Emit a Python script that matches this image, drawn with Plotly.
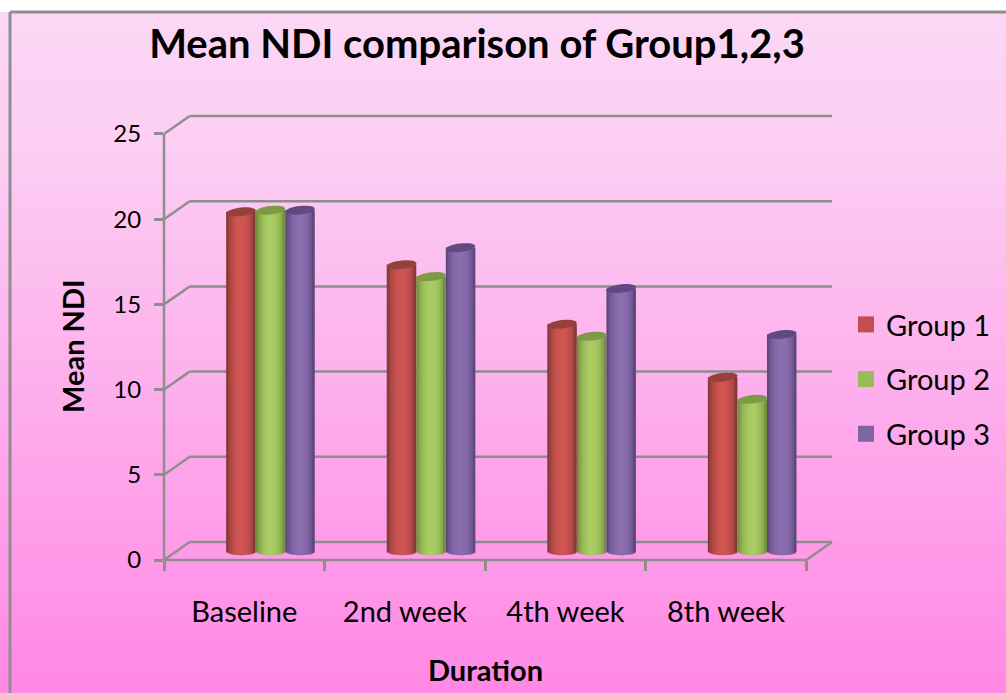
import math
import plotly.graph_objects as go

# values
categories = ['Baseline', '2nd week', '4th week', '8th week']
group_names = ['Group 1', 'Group 2', 'Group 3']
group_1 = [19.9, 16.8, 13.3, 10.2]
group_2 = [20.0, 16.1, 12.6, 8.9]
group_3 = [20.0, 17.8, 15.4, 12.7]
y_ticks = [0, 5, 10, 15, 20, 25]

edge_colors = [(112, 48, 46), (98, 124, 52), (80, 62, 110)]
mid_colors = [(208, 86, 83), (170, 205, 100), (139, 110, 176)]
top_colors = ['#96403c', '#7e9a45', '#5f4a82']
legend_colors = ['#c0504d', '#9bbb59', '#8064a2']

GREY = '#8e8e8e'
FONT = 'Lato, Carlito, Calibri, sans-serif'

# fake 3D: depth of the chart box in axis units
DEPTH_X = 0.16
DEPTH_Y = 1.056
BAR_BASE = 0.53
BAR_W = 0.184
BAR_LEFT = -0.113
STRIPS = 15
OVERLAP = 0.007  # strips overlap by about a pixel so no seams show


def mix(a, b, t):
    return 'rgb(%d,%d,%d)' % tuple(a[i] + (b[i] - a[i]) * t for i in range(3))


fig = go.Figure()

# cylinders: narrow bars side by side, shaded dark - light - dark
for g, values in enumerate([group_1, group_2, group_3]):
    left = BAR_LEFT + g * BAR_W
    for s in range(STRIPS):
        u = (s + 0.5) / STRIPS
        c = 2 * u - 1
        round_off = math.sqrt(1 - c * c)
        base = BAR_BASE - 0.25 * round_off
        strip_w = BAR_W / STRIPS + (OVERLAP if s < STRIPS - 1 else 0)
        fig.add_trace(go.Bar(
            x=list(range(4)),
            y=[v + BAR_BASE - base for v in values],
            base=base,
            width=strip_w,
            offset=left + s * BAR_W / STRIPS,
            marker=dict(color=mix(edge_colors[g], mid_colors[g], round_off ** 1.4), line_width=0),
            name=group_names[g],
            showlegend=False,
            hoverinfo='skip' if s != STRIPS // 2 else None,
        ))

# legend swatches
for g, name in enumerate(group_names):
    fig.add_trace(go.Scatter(
        x=[None], y=[None], mode='markers', name=name, legendgroup=name,
        marker=dict(symbol='square', size=16, color=legend_colors[g]),
    ))

shapes = []

# page gradient
stops = [(0, (253, 216, 246)), (150, (252, 206, 243)), (300, (253, 186, 239)),
         (550, (255, 155, 233)), (693, (255, 136, 229))]
for py in range(12, 693, 5):
    for (p0, c0), (p1, c1) in zip(stops, stops[1:]):
        if p0 <= py <= p1:
            col = mix(c0, c1, (py - p0) / (p1 - p0))
            break
    shapes.append(dict(type='rect', xref='paper', yref='paper', layer='below',
                       x0=-164 / 668, x1=(1006 - 164) / 668,
                       y0=(560 - py - 5) / 444, y1=(560 - py) / 444,
                       fillcolor=col, line_width=0))

# outer frame, top and left only
for x0, y0, x1, y1 in [(10, 12, 1006, 12), (10, 12, 10, 693)]:
    shapes.append(dict(type='line', xref='paper', yref='paper', layer='below',
                       x0=(x0 - 164) / 668, x1=(x1 - 164) / 668,
                       y0=(560 - y0) / 444, y1=(560 - y1) / 444,
                       line=dict(color=GREY, width=3)))


def grey_line(x0, y0, x1, y1):
    # paper coordinates so the box edges are not clipped by the plot area
    shapes.append(dict(type='line', xref='paper', yref='paper', layer='below',
                       x0=(x0 + 0.5) / (4 + DEPTH_X), x1=(x1 + 0.5) / (4 + DEPTH_X),
                       y0=y0 / (25 + DEPTH_Y), y1=y1 / (25 + DEPTH_Y),
                       line=dict(color=GREY, width=2.5)))


# back wall gridlines and side wall diagonals
for v in y_ticks:
    grey_line(-0.5, v, -0.5 + DEPTH_X, v + DEPTH_Y)
    grey_line(-0.5 + DEPTH_X, v + DEPTH_Y, 3.5 + DEPTH_X, v + DEPTH_Y)
grey_line(-0.5, 0, -0.5, 25)
grey_line(-0.5, 0, 3.5, 0)
grey_line(3.5, 0, 3.5 + DEPTH_X, DEPTH_Y)

# tops of the cylinders
for g, values in enumerate([group_1, group_2, group_3]):
    for i, v in enumerate(values):
        cx = i + BAR_LEFT + (g + 0.5) * BAR_W
        top = v + BAR_BASE
        pts = []
        for k in range(28):
            t = 2 * math.pi * k / 28
            pts.append('%.4f,%.4f' % (cx + BAR_W / 2 * math.cos(t),
                                      top + 0.25 * math.sin(t) + 0.09 * math.cos(t)))
        shapes.append(dict(type='path', layer='above', path='M' + 'L'.join(pts) + 'Z',
                           fillcolor=top_colors[g], line_width=0))

fig.update_layout(
    width=1006,
    height=693,
    autosize=False,
    barmode='overlay',
    margin=dict(l=164, r=174, t=116, b=133),
    paper_bgcolor='white',
    plot_bgcolor='rgba(0,0,0,0)',
    font=dict(family=FONT, color='black'),
    shapes=shapes,
    title=dict(text='<b>Mean NDI comparison of Group1,2,3</b>', font=dict(size=40),
               x=477 / 1006, xanchor='center', y=1 - 44 / 693, yanchor='middle'),
    legend=dict(x=846 / 1006, xref='container', y=1 - 299 / 693, yref='container',
                xanchor='left', yanchor='top', bgcolor='rgba(0,0,0,0)',
                font=dict(size=29), tracegroupgap=14, itemwidth=30),
    annotations=[
        dict(text='<b>Duration</b>', font=dict(size=29), showarrow=False,
             xref='paper', yref='paper', xanchor='center', yanchor='middle',
             x=(485 - 164) / 668, y=(560 - 669) / 444),
        dict(text='<b>Mean NDI</b>', font=dict(size=29), showarrow=False, textangle=-90,
             xref='paper', yref='paper', xanchor='center', yanchor='middle',
             x=(72 - 164) / 668, y=(560 - 346) / 444),
    ],
    xaxis=dict(
        range=[-0.5, 3.5 + DEPTH_X], tickvals=list(range(4)), ticktext=categories,
        ticks='', showgrid=False, zeroline=False, showline=False,
        tickfont=dict(size=29), ticklabelstandoff=32,
        minor=dict(tickvals=[-0.5, 0.5, 1.5, 2.5, 3.5], ticks='outside', ticklen=10,
                   tickcolor=GREY, tickwidth=2.5, showgrid=False),
    ),
    yaxis=dict(
        range=[0, 25 + DEPTH_Y], tickvals=y_ticks, ticks='outside', ticklen=9,
        tickcolor=GREY, tickwidth=2.5, showgrid=False, zeroline=False, showline=False,
        tickfont=dict(size=24), ticklabelstandoff=8,
    ),
)

fig.write_html('out.html', config={'displayModeBar': False},
               post_script="document.body.style.margin='0';")
